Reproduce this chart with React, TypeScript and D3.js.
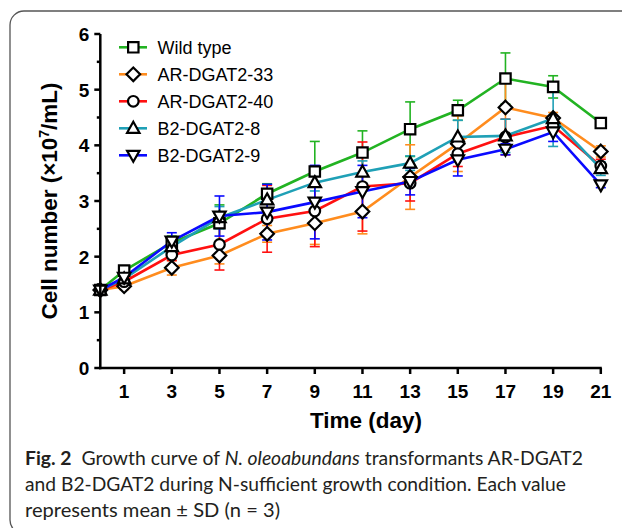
import React from "react";
import * as d3 from "d3";

const days = [0, 1, 3, 5, 7, 9, 11, 13, 15, 17, 19, 21];
const seriesNames = ["Wild type", "AR-DGAT2-33", "AR-DGAT2-40", "B2-DGAT2-8", "B2-DGAT2-9"];
const seriesColors = ["#22b322", "#ff8c1e", "#ff1010", "#1fa0b6", "#0a0aff"];
const seriesShapes = ["square", "diamond", "circle", "triangle", "triangleDown"];

const wildMean = [1.4, 1.75, 2.25, 2.6, 3.13, 3.53, 3.87, 4.29, 4.63, 5.2, 5.05, 4.4];
const wildSd = [0.03, 0.05, 0.12, 0.33, 0.18, 0.54, 0.39, 0.49, 0.18, 0.46, 0.2, 0.04];
const ar33Mean = [1.4, 1.47, 1.8, 2.02, 2.41, 2.6, 2.81, 3.43, 4.03, 4.68, 4.49, 3.89];
const ar33Sd = [0.03, 0.06, 0.13, 0.15, 0.15, 0.38, 0.4, 0.58, 0.5, 0.5, 0.1, 0.1];
const ar40Mean = [1.4, 1.55, 2.03, 2.22, 2.68, 2.82, 3.26, 3.32, 3.85, 4.15, 4.35, 3.63];
const ar40Sd = [0.03, 0.05, 0.1, 0.46, 0.6, 0.64, 0.8, 0.32, 0.23, 0.32, 0.08, 0.12];
const b28Mean = [1.4, 1.6, 2.18, 2.7, 3.02, 3.33, 3.52, 3.68, 4.15, 4.17, 4.48, 3.58];
const b28Sd = [0.03, 0.05, 0.08, 0.2, 0.2, 0.15, 0.2, 0.13, 0.3, 0.3, 0.5, 0.12];
const b29Mean = [1.4, 1.63, 2.28, 2.73, 2.8, 2.98, 3.17, 3.35, 3.74, 3.93, 4.24, 3.29];
const b29Sd = [0.03, 0.05, 0.15, 0.36, 0.5, 0.66, 0.47, 0.24, 0.29, 0.1, 0.17, 0.05];

const means = [wildMean, ar33Mean, ar40Mean, b28Mean, b29Mean];
const sds = [wildSd, ar33Sd, ar40Sd, b28Sd, b29Sd];

const yTicks = [0, 1, 2, 3, 4, 5, 6];
const yMinorTicks = [0.5, 1.5, 2.5, 3.5, 4.5, 5.5];
const xTicks = [1, 3, 5, 7, 9, 11, 13, 15, 17, 19, 21];

const x = d3.scaleLinear().domain([0, 21]).range([100.3, 600.8]);
const y = d3.scaleLinear().domain([0, 6]).range([368, 34]);

function markerPath(shape: string, cx: number, cy: number): string {
  switch (shape) {
    case "square": {
      const h = 5.2;
      return `M${cx - h},${cy - h}H${cx + h}V${cy + h}H${cx - h}Z`;
    }
    case "diamond": {
      const h = 6.8;
      return `M${cx},${cy - h}L${cx + h},${cy}L${cx},${cy + h}L${cx - h},${cy}Z`;
    }
    case "circle": {
      const r = 5.3;
      return `M${cx - r},${cy}A${r},${r} 0 1,0 ${cx + r},${cy}A${r},${r} 0 1,0 ${cx - r},${cy}Z`;
    }
    case "triangle": {
      const w = 6.2;
      return `M${cx},${cy - 6.5}L${cx + w},${cy + 4.5}L${cx - w},${cy + 4.5}Z`;
    }
    default: {
      const w = 6.2;
      return `M${cx},${cy + 6.5}L${cx + w},${cy - 4.5}L${cx - w},${cy - 4.5}Z`;
    }
  }
}

export default function App() {
  const line = d3
    .line<number>()
    .x((_, i) => x(days[i]))
    .y((v) => y(v));

  const axisFont = "'Liberation Sans', Arial, sans-serif";
  const capFont = "Lato, 'Open Sans', sans-serif";

  return (
    <svg
      width={622}
      height={528}
      style={{ position: "absolute", left: 0, top: 0, background: "#fff" }}
    >
      <rect x={10} y={11} width={700} height={523} rx={14} ry={14} fill="none" stroke="#555" strokeWidth={1.3} />

      {/* error bars and lines */}
      {means.map((m, si) => (
        <g key={"s" + si}>
          {m.map((v, i) => {
            const cx = x(days[i]);
            const top = y(v + sds[si][i]);
            const bot = y(v - sds[si][i]);
            return (
              <g key={i} stroke={seriesColors[si]} strokeWidth={1.6}>
                <line x1={cx} x2={cx} y1={top} y2={bot} />
                <line x1={cx - 5} x2={cx + 5} y1={top} y2={top} />
                <line x1={cx - 5} x2={cx + 5} y1={bot} y2={bot} />
              </g>
            );
          })}
          <path d={line(m) || ""} fill="none" stroke={seriesColors[si]} strokeWidth={2.6} />
        </g>
      ))}

      {/* markers */}
      {means.map((m, si) => (
        <g key={"m" + si}>
          {m.map((v, i) => (
            <path
              key={i}
              d={markerPath(seriesShapes[si], x(days[i]), y(v))}
              fill="#fff"
              stroke="#000"
              strokeWidth={2.2}
            />
          ))}
        </g>
      ))}

      {/* axes */}
      <g stroke="#000" strokeWidth={2.5}>
        <line x1={x(0)} x2={x(0)} y1={y(0) + 1.2} y2={y(6)} />
        <line x1={x(0) - 1.2} x2={x(21) + 1} y1={y(0)} y2={y(0)} />
        {yTicks.map((t) => (
          <line key={"yt" + t} x1={x(0) - 6} x2={x(0)} y1={y(t)} y2={y(t)} />
        ))}
        {yMinorTicks.map((t) => (
          <line key={"ym" + t} x1={x(0) - 3.5} x2={x(0)} y1={y(t)} y2={y(t)} />
        ))}
        {xTicks.map((t) => (
          <line key={"xt" + t} x1={x(t)} x2={x(t)} y1={y(0)} y2={y(0) + 6} />
        ))}
      </g>
      <g fontFamily={axisFont} fontWeight="bold" fontSize={19} fill="#000">
        {yTicks.map((t) => (
          <text key={"yl" + t} x={x(0) - 11} y={y(t)} dy="0.36em" textAnchor="end">
            {t}
          </text>
        ))}
        {xTicks.map((t) => (
          <text key={"xl" + t} x={x(t)} y={398} textAnchor="middle">
            {t}
          </text>
        ))}
      </g>
      <text x={366} y={428} textAnchor="middle" fontFamily={axisFont} fontWeight="bold" fontSize={22.5}>
        Time (day)
      </text>
      <text
        transform={`translate(57,${y(3)}) rotate(-90)`}
        textAnchor="middle"
        fontFamily={axisFont}
        fontWeight="bold"
        fontSize={22.5}
      >
        Cell number (×10
        <tspan dy={-8} fontSize={14}>7</tspan>
        <tspan dy={8}>/mL)</tspan>
      </text>

      {/* legend */}
      {seriesNames.map((name, si) => {
        const ly = 47.3 + si * 27;
        return (
          <g key={"lg" + si}>
            <line x1={119} x2={147} y1={ly} y2={ly} stroke={seriesColors[si]} strokeWidth={2.6} />
            <path d={markerPath(seriesShapes[si], 133.3, ly)} fill="#fff" stroke="#000" strokeWidth={2.2} />
            <text x={157.5} y={ly} dy="0.36em" fontFamily={axisFont} fontSize={18} fill="#000">
              {name}
            </text>
          </g>
        );
      })}

      {/* caption */}
      <g fontFamily={capFont} fontSize={19.5} fill="#231f20">
        <text x={25} y={465} textLength={558} lengthAdjust="spacingAndGlyphs">
          <tspan fontWeight="bold">Fig. 2</tspan>
          <tspan>{"\u00a0\u00a0Growth curve of "}</tspan>
          <tspan fontStyle="italic">N. oleoabundans</tspan>
          <tspan> transformants AR-DGAT2</tspan>
        </text>
        <text x={25} y={491} textLength={541} lengthAdjust="spacingAndGlyphs">
          and B2-DGAT2 during N-sufficient growth condition. Each value
        </text>
        <text x={25} y={516.5} textLength={255} lengthAdjust="spacingAndGlyphs">
          represents mean ± SD (n = 3)
        </text>
      </g>
    </svg>
  );
}
